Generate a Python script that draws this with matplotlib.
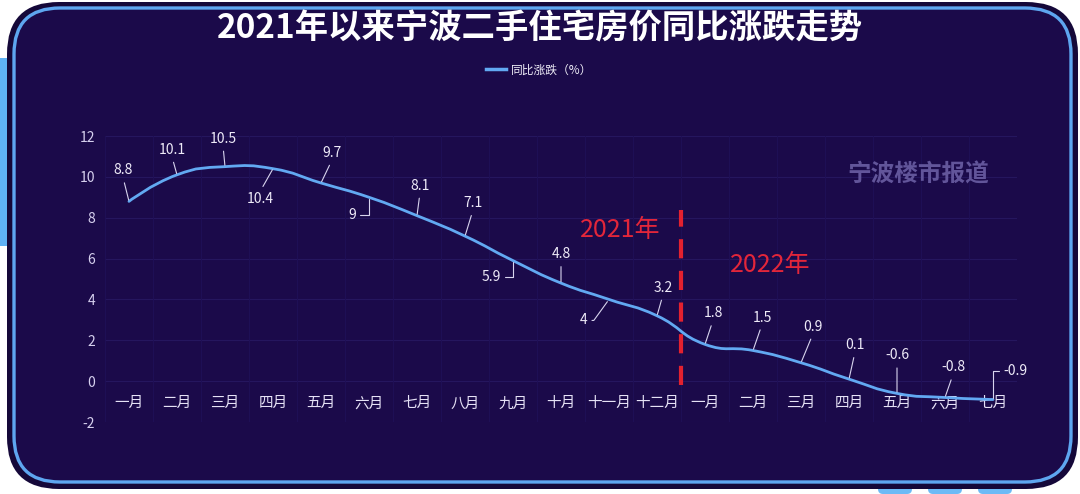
import numpy as np
import matplotlib
matplotlib.use("Agg")
import matplotlib.pyplot as plt
from matplotlib.path import Path
from matplotlib.patches import PathPatch, FancyBboxPatch
from matplotlib.lines import Line2D

plt.rcParams['font.family'] = ['Noto Sans CJK SC', 'DejaVu Sans']

# ---------------- data ----------------
months = ["一月", "二月", "三月", "四月", "五月", "六月", "七月", "八月", "九月", "十月",
          "十一月", "十二月",
          "一月", "二月", "三月", "四月", "五月", "六月", "七月"]
values = [8.8, 10.1, 10.5, 10.4, 9.7, 9, 8.1, 7.1, 5.9, 4.8, 4, 3.2,
          1.8, 1.5, 0.9, 0.1, -0.6, -0.8, -0.9]
value_labels = ["8.8", "10.1", "10.5", "10.4", "9.7", "9", "8.1", "7.1", "5.9", "4.8", "4", "3.2",
                "1.8", "1.5", "0.9", "0.1", "-0.6", "-0.8", "-0.9"]
y_ticks = [-2, 0, 2, 4, 6, 8, 10, 12]
title = "2021年以来宁波二手住宅房价同比涨跌走势"
series_name = "同比涨跌（%）"
year_labels = ["2021年", "2022年"]
watermark = "宁波楼市报道"

# label offsets (pixels) and leader style
label_offsets = [(-6, -31), (-5, -25), (-2, -28), (-13, 30), (11, -30), (-17, 18), (3, -30),
                 (8, -33), (-22, 16), (0, -29), (-25, 21), (6, -28), (8, -31), (9, -33),
                 (12, -36), (6, -34), (0, -38), (8, -30), (22, -29)]
elbow = {5: 'right', 8: 'right', 18: 'left'}

W, H = 1080, 494
fig = plt.figure(figsize=(W / 100, H / 100), dpi=100)
fig.patch.set_facecolor('white')

# ---------------- background frame ----------------
bg = fig.add_axes([0, 0, 1, 1], zorder=0)
bg.set_xlim(0, W)
bg.set_ylim(H, 0)
bg.axis('off')
light = '#5fb2f4'
bg.add_patch(FancyBboxPatch((-20, 58), 40, 188, boxstyle="round,pad=0,rounding_size=8",
                            fc=light, ec='none'))
for x0 in (878, 928, 978):
    bg.add_patch(FancyBboxPatch((x0, 478), 34, 16, boxstyle="round,pad=0,rounding_size=5",
                                fc='#6cbaf6', ec='none'))
bg.add_patch(FancyBboxPatch((7, 2), 1071, 487, boxstyle="round,pad=0,rounding_size=52",
                            fc='#150839', ec='none'))
bg.add_patch(FancyBboxPatch((14, 8), 1057, 474, boxstyle="round,pad=0,rounding_size=46",
                            fc='#1b0a4a', ec='#5ea6f0', lw=2.4))

# ---------------- main axes ----------------
ax = fig.add_axes([105 / W, 72 / H, 912 / W, 286 / H], zorder=2)
ax.set_facecolor('none')
n = len(values)
x = np.arange(n)
ax.set_xlim(-0.5, n - 0.5)
ax.set_ylim(-2, 12)
for s in ax.spines.values():
    s.set_visible(False)
ax.set_yticks(y_ticks)
ax.set_yticklabels([str(t) for t in y_ticks])
ax.tick_params(axis='y', length=0, pad=7, labelsize=10, labelcolor='#d6d0ee')
ax.set_xticks(x)
ax.set_xticklabels(months)
ax.spines['bottom'].set_position(('data', 0))
ax.tick_params(axis='x', length=0, pad=11, labelsize=10.5, labelcolor='#e6e2f6')
for t in y_ticks:
    ax.axhline(t, color='#25165e', lw=0.8, zorder=0)
for b in np.arange(-0.5, n, 1.0):
    ax.axvline(b, color='#1f1056', lw=0.7, zorder=0)

# smooth line (ECharts-like bezier smoothing computed in pixel scale)
sx, sy = 48.0, 20.43
px = x * sx
py = np.array(values) * sy
smooth = 0.5
verts = [(px[0], py[0])]
codes = [Path.MOVETO]
cpx0, cpy0 = px[0], py[0]
for k in range(1, n):
    xk, yk = px[k], py[k]
    prx, pry = px[k - 1], py[k - 1]
    if k >= n - 1:
        ncx, ncy = xk, yk
        vx = vy = 0.0
        ratio = 0.5
    else:
        nx_, ny_ = px[k + 1], py[k + 1]
        vx, vy = nx_ - prx, ny_ - pry
        l0 = np.hypot(xk - prx, yk - pry)
        l1 = np.hypot(nx_ - xk, ny_ - yk)
        ratio = l1 / (l0 + l1)
        ncx = xk - vx * smooth * (1 - ratio)
        ncy = yk - vy * smooth * (1 - ratio)
    verts += [(cpx0, cpy0), (ncx, ncy), (xk, yk)]
    codes += [Path.CURVE4] * 3
    cpx0 = xk + vx * smooth * ratio
    cpy0 = yk + vy * smooth * ratio
verts = np.array(verts)
verts[:, 0] /= sx
verts[:, 1] /= sy
line_color = '#62a9f2'
ax.add_patch(PathPatch(Path(verts, codes), fill=False, ec=line_color, lw=2.0,
                       capstyle='round', joinstyle='round', zorder=4))

# data labels with leader lines
for i, (v, lab) in enumerate(zip(values, value_labels)):
    dx, dy = label_offsets[i]
    if i in elbow:
        rel = (1.0, 0.5) if elbow[i] == 'right' else (0.0, 0.5)
        ap = dict(arrowstyle='-', color='#d8d4ee', lw=0.8, shrinkA=1, shrinkB=1,
                  relpos=rel, connectionstyle="angle,angleA=0,angleB=90,rad=0")
    elif i == 10:
        ap = dict(arrowstyle='-', color='#d8d4ee', lw=0.8, shrinkA=1, shrinkB=2,
                  relpos=(1.0, 0.5), connectionstyle="arc,angleA=0,angleB=-130,armA=6,armB=0,rad=0")
    else:
        rel = (0.5, 0.0) if dy < 0 else (0.5, 1.0)
        ap = dict(arrowstyle='-', color='#d8d4ee', lw=0.8, shrinkA=2, shrinkB=1, relpos=rel)
    ax.annotate(lab, xy=(i, v), xytext=(dx, -dy), textcoords='offset pixels',
                ha='center', va='center', fontsize=10, color='#eeeaf8',
                arrowprops=ap, zorder=5)

# red divider
ax.plot([11.5, 11.5], [-0.2, 8.4], color='#e3212f', lw=3, linestyle=(0, (4.6, 3.0)),
        solid_capstyle='butt', zorder=3)
ax.text(620 / W, 1 - 230 / H, year_labels[0], transform=fig.transFigure, ha='center', va='center',
        fontsize=18, color='#e3263a')
ax.text(770 / W, 1 - 265 / H, year_labels[1], transform=fig.transFigure, ha='center', va='center',
        fontsize=18, color='#e3263a')

# watermark
fig.text(918 / W, 1 - 175 / H, watermark, ha='center', va='center', fontsize=17,
         fontweight='bold', color='#62559a', zorder=3)

# title
fig.text(540 / W, 1 - 29 / H, title, ha='center', va='center', fontsize=24,
         fontweight='bold', color='white', zorder=3)

# legend
handle = Line2D([], [], color=line_color, lw=2.5)
leg = fig.legend([handle], [series_name], loc='center', bbox_to_anchor=(539 / W, 1 - 70 / H),
                 frameon=False, fontsize=8.5, handlelength=1.7, handletextpad=0.4,
                 labelcolor='#f0eef8')
leg.set_zorder(4)

fig.savefig('out.png', dpi=100, facecolor=fig.get_facecolor())
